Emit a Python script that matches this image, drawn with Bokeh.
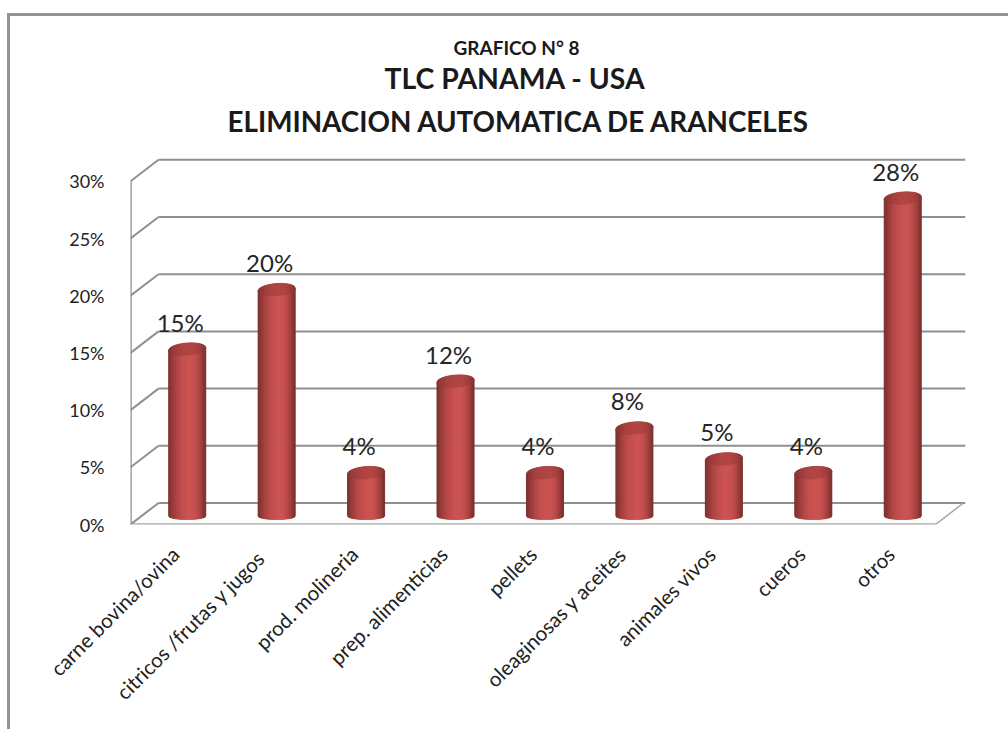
import numpy as np
from bokeh.plotting import figure
from bokeh.models import ColumnDataSource, LinearAxis, FixedTicker, Range1d, Title
from bokeh.core.properties import value
from bokeh.embed import file_html
from bokeh.resources import INLINE

categories = ["carne bovina/ovina", "citricos /frutas y  jugos", "prod. molineria",
              "prep. alimenticias", "pellets", "oleaginosas y aceites",
              "animales vivos", "cueros", "otros"]
shares = [14.6, 19.8, 3.8, 11.8, 3.8, 7.7, 5.0, 3.8, 27.8]
y_ticks = [0, 5, 10, 15, 20, 25, 30]
y_tick_labels = ["0%", "5%", "10%", "15%", "20%", "25%", "30%"]
title_lines = ["GRAFICO N° 8", "TLC PANAMA - USA", "ELIMINACION AUTOMATICA DE ARANCELES"]

FONT = "Lato"
PX_CAT, PX_VAL = 89.44, 11.44
DEPTH_X, DEPTH_Y = 28 / PX_CAT, 21.5 / PX_VAL
n = len(categories)
BAR_HALF = 18.5 / PX_CAT
ELL = 6.0 / PX_VAL
ELL_BOTTOM = 3.5 / PX_VAL
BASE = 0.74
BAR_SHIFT = 12 / PX_CAT
GRID = "#8f8f8f"

frame_css = (":host::before{content:'';position:absolute;left:7px;top:13px;right:0;bottom:0;"
             "border-left:3px solid #939393;border-top:3px solid #939393;z-index:10;pointer-events:none}")

p = figure(width=1008, height=729, output_backend="svg", toolbar_location=None,
           x_axis_location=None, y_axis_location=None,
           x_range=Range1d(-0.5, -0.5 + 835 / PX_CAT), y_range=Range1d(0, 374 / PX_VAL),
           min_border_left=130, min_border_right=43, min_border_top=150, min_border_bottom=205,
           outline_line_color=None, stylesheets=[frame_css])
p.grid.visible = False

# titles (stacked above the plot area)
for txt, start, size, gap in zip(title_lines[::-1], [227, 384, 453], [27.8, 28.4, 19], [21, -4, 4]):
    p.add_layout(Title(text=txt, align="left", offset=start - 130, standoff=gap, vertical_align="top",
                       text_font=FONT, text_font_style="bold", text_font_size=f"{size}px",
                       text_color="#1a1a1a"), "above")

# axes
yaxis = LinearAxis(ticker=FixedTicker(ticks=y_ticks),
                   major_label_overrides=dict(zip(y_ticks, y_tick_labels)),
                   axis_line_color=None, major_tick_line_color=None, minor_tick_line_color=None,
                   major_label_standoff=20, major_label_text_font=FONT,
                   major_label_text_font_size="18px", major_label_text_color="#222222")
p.add_layout(yaxis, "left")
xaxis = LinearAxis(ticker=FixedTicker(ticks=list(range(n))),
                   major_label_overrides=dict(enumerate(categories)),
                   axis_line_color=None, major_tick_line_color=None, minor_tick_line_color=None,
                   major_label_standoff=20, major_label_orientation=np.pi / 4, major_label_text_font=FONT,
                   major_label_text_font_size="20.5px", major_label_text_color="#222222")
p.add_layout(xaxis, "below")

# 3-D walls
x0, x1 = -0.5, n - 0.5
vals = np.array(y_ticks, dtype=float)
p.segment(x0 + DEPTH_X, vals + DEPTH_Y, x1 + DEPTH_X + 2 / PX_CAT, vals + DEPTH_Y, line_color=GRID, line_width=2)
p.segment(x0, vals, x0 + DEPTH_X, vals + DEPTH_Y, line_color=GRID, line_width=2)
p.segment([x0], [0], [x0], [30], line_color=GRID, line_width=2.5)
p.segment([x0], [0], [x1], [0], line_color="#a6a6a6", line_width=2.5)
p.segment([x1], [0], [x1 + DEPTH_X], [DEPTH_Y], line_color="#a6a6a6", line_width=1.5)


def shade(t, lo=(122, 46, 44), hi=(204, 84, 82)):
    # cylinder shading: brightest right of centre, dark at both rims
    c = 0.2
    d = np.abs(t - c) / (1 + c if t < c else 1 - c)
    k = 1 - d ** 2.0
    rgb = [int(a + (b - a) * k) for a, b in zip(lo, hi)]
    return "#%02x%02x%02x" % tuple(rgb)


strips = 36
edges = np.linspace(-1, 1, strips + 1)
xs, ys, cols = [], [], []
cap_xs, cap_ys, cap_cols = [], [], []
base_y = BASE
for i, v in enumerate(shares):
    cx = i + BAR_SHIFT
    top = base_y + v
    for a, b in zip(edges[:-1], edges[1:]):
        tt = np.linspace(a, b, 5)
        round_part = np.sqrt(1 - tt ** 2)
        tilt = ELL * 0.22 * tt
        px = cx + tt * BAR_HALF
        xs.append(np.r_[px, px[::-1]])
        ys.append(np.r_[base_y - ELL_BOTTOM * round_part, (top - ELL * round_part + tilt)[::-1]])
        cols.append(shade((a + b) / 2))
        cap_xs.append(np.r_[px, px[::-1]])
        cap_ys.append(np.r_[top - ELL * round_part + tilt, (top + ELL * round_part + tilt)[::-1]])
        cap_cols.append(shade((a + b) / 2, (135, 52, 50), (178, 70, 68)))

body = ColumnDataSource(dict(xs=xs, ys=ys, c=cols))
cap = ColumnDataSource(dict(xs=cap_xs, ys=cap_ys, c=cap_cols))
p.patches("xs", "ys", source=body, fill_color="c", line_color="c", line_width=1)
p.patches("xs", "ys", source=cap, fill_color="c", line_color="c", line_width=1)

# data labels
lab = ColumnDataSource(dict(x=[i + BAR_SHIFT for i in range(n)],
                            y=[base_y + v for v in shares],
                            t=[f"{round(v)}%" for v in shares]))
p.text("x", "y", text="t", source=lab, text_font=value(FONT), text_font_size="24px",
       text_color="#262626", text_align="center", text_baseline="alphabetic",
       x_offset=-7, y_offset=-27)

open("out.html", "w").write(file_html(p, INLINE))
